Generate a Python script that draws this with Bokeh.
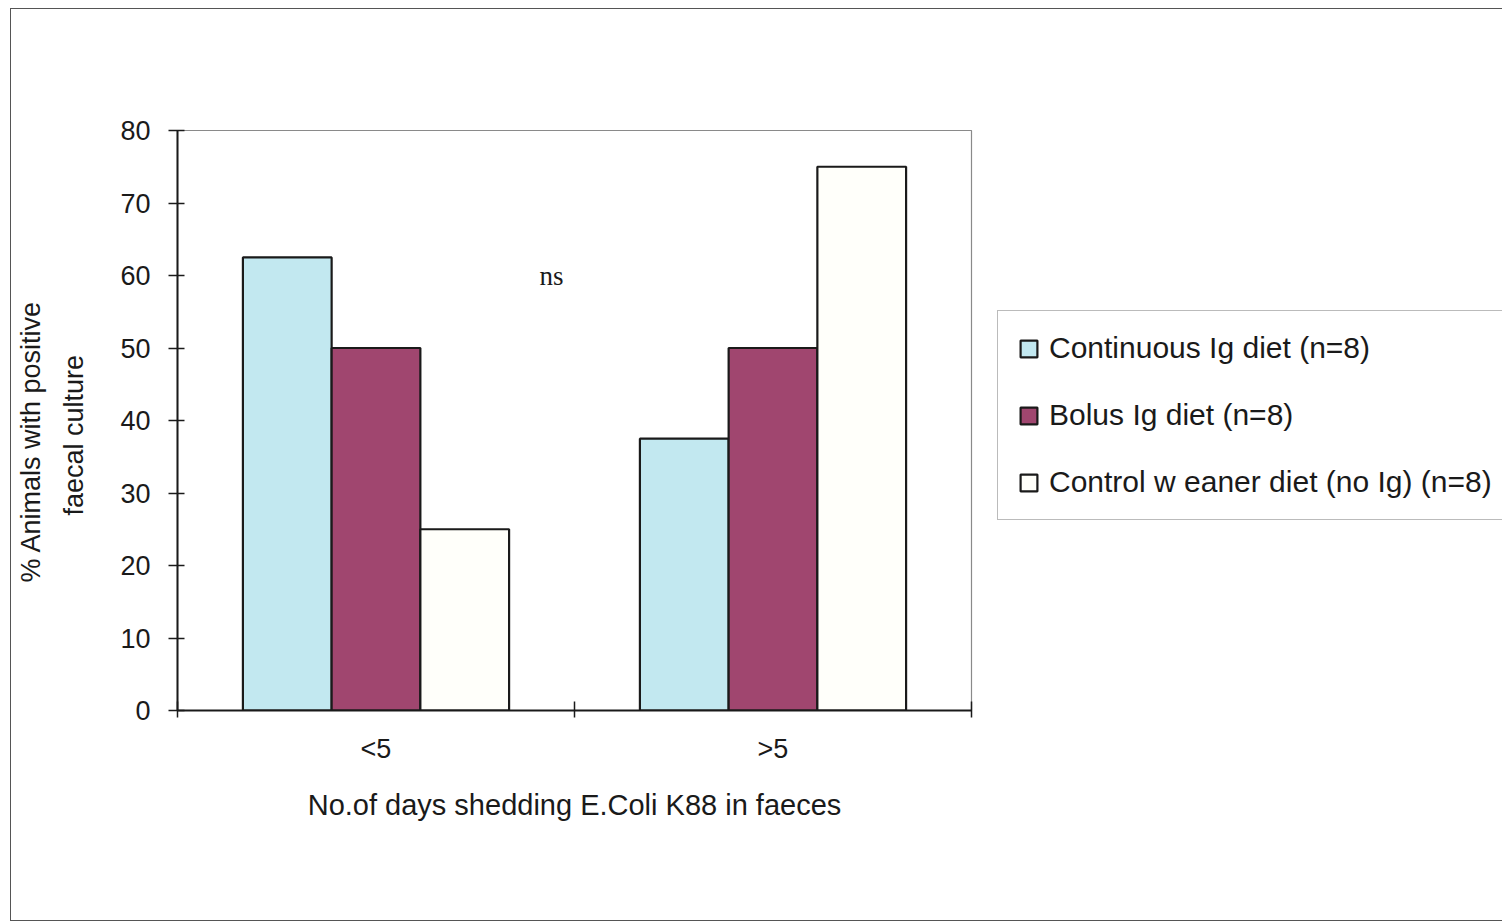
from bokeh.plotting import figure
from bokeh.layouts import row
from bokeh.models import (Range1d, LinearAxis, FixedTicker, CustomJSTickFormatter,
                          Legend, LegendItem, Label, Title)
from bokeh.embed import file_html
from bokeh.resources import INLINE

# ---- data ----
categories = ["<5", ">5"]
continuous = [62.5, 37.5]
bolus = [50, 50]
control = [25, 75]
series_names = ["Continuous Ig diet (n=8)", "Bolus Ig diet (n=8)",
                "Control w eaner diet (no Ig) (n=8)"]
series_colors = ["#c2e8f0", "#a0466f", "#fffffa"]
y_ticks = [0, 10, 20, 30, 40, 50, 60, 70, 80]
y_title = ["% Animals with positive", "faecal culture"]
x_title = "No.of days shedding E.Coli K88 in faeces"

FONT = "Liberation Sans"
INK = "#1a1a1a"
n = len(categories)
BT, BB = 121, 210   # top / bottom borders shared by both panels

p = figure(width=984, height=911, output_backend="svg", toolbar_location=None,
           x_range=Range1d(0, n), y_range=Range1d(0, 80),
           x_axis_type=None, y_axis_type=None,
           min_border_left=166, min_border_right=24,
           min_border_top=BT, min_border_bottom=BB)
p.background_fill_color = "white"
p.border_fill_color = "white"
p.outline_line_color = "#8a8a8a"
p.outline_line_width = 1.2
p.xgrid.visible = False
p.ygrid.visible = False

# y axis
yaxis = LinearAxis(ticker=FixedTicker(ticks=y_ticks, minor_ticks=[]))
yaxis.axis_line_color = INK
yaxis.axis_line_width = 2
yaxis.major_tick_line_color = INK
yaxis.major_tick_line_width = 1.5
yaxis.major_tick_in = 7
yaxis.major_tick_out = 9
yaxis.minor_tick_line_color = None
yaxis.major_label_standoff = 18
yaxis.major_label_text_font = FONT
yaxis.major_label_text_font_size = "27px"
yaxis.major_label_text_color = INK
p.add_layout(yaxis, "left")

# y title: two lines as stacked left titles (closest to the axis first)
p.add_layout(Title(text=y_title[1], align="left", offset=195, vertical_align="top",
                   standoff=54, text_font=FONT, text_font_size="27px",
                   text_font_style="normal", text_color=INK), "left")
p.add_layout(Title(text=y_title[0], align="left", offset=128, vertical_align="bottom",
                   standoff=-28, text_font=FONT, text_font_size="27px",
                   text_font_style="normal", text_color=INK), "left")

# x axis: labels at category centres, tick marks at category boundaries
centers = [i + 0.5 for i in range(n)]
bounds = [i for i in range(n + 1)]
xaxis = LinearAxis(ticker=FixedTicker(ticks=centers, minor_ticks=bounds),
                   formatter=CustomJSTickFormatter(args=dict(labels=categories),
                                                   code="return labels[Math.floor(tick)]"))
xaxis.axis_line_color = INK
xaxis.axis_line_width = 2
xaxis.major_tick_in = 0
xaxis.major_tick_out = 0
xaxis.minor_tick_in = 9
xaxis.minor_tick_out = 7
xaxis.minor_tick_line_color = INK
xaxis.minor_tick_line_width = 1.5
xaxis.major_label_standoff = 16
xaxis.major_label_text_font = FONT
xaxis.major_label_text_font_size = "27px"
xaxis.major_label_text_color = INK
xaxis.axis_label = x_title
xaxis.axis_label_text_font = FONT
xaxis.axis_label_text_font_size = "29px"
xaxis.axis_label_text_font_style = "normal"
xaxis.axis_label_text_color = INK
xaxis.axis_label_standoff = 22
p.add_layout(xaxis, "below")

# bars
bw = 0.2235
all_series = [continuous, bolus, control]
for k, (vals, col) in enumerate(zip(all_series, series_colors)):
    xs = [c + (k - 1) * bw for c in centers]
    p.vbar(x=xs, top=vals, width=bw, fill_color=col, line_color=INK, line_width=2.2)

# "ns" annotation inside the plot area
p.add_layout(Label(x=0.942, y=60, text="ns", text_font="Liberation Serif",
                   text_font_size="27px", text_align="center",
                   text_baseline="middle", text_color=INK))

# legend panel to the right of the plot area; the series are repeated there
# as hidden renderers that only provide the legend swatches
lf = figure(width=507, height=911, output_backend="svg", toolbar_location=None,
            x_range=Range1d(0, n), y_range=Range1d(0, 80),
            x_axis_type=None, y_axis_type=None,
            min_border_left=0, min_border_right=0, min_border_top=BT,
            min_border_bottom=BB)
lf.outline_line_color = None
lf.xgrid.visible = False
lf.ygrid.visible = False
lf.background_fill_color = "white"
lf.border_fill_color = "white"
swatches = []
for k, (vals, col) in enumerate(zip(all_series, series_colors)):
    xs = [c + (k - 1) * bw for c in centers]
    r = lf.vbar(x=xs, top=vals, width=bw, fill_color=col, line_color=INK,
                line_width=2.2)
    r.visible = False
    swatches.append(r)
legend = Legend(items=[LegendItem(label=nm, renderers=[r])
                       for nm, r in zip(series_names, swatches)],
                location=(2, 190))
legend.inactive_fill_alpha = 0
legend.border_line_color = "#777777"
legend.border_line_width = 1.5
legend.background_fill_color = "white"
legend.background_fill_alpha = 1
legend.glyph_width = 21
legend.glyph_height = 21
legend.label_standoff = 10
legend.label_text_font = FONT
legend.label_text_font_size = "30px"
legend.label_text_color = INK
legend.spacing = 33
legend.padding = 20
legend.margin = 0
lf.add_layout(legend, "center")

layout = row(p, lf)
layout.margin = (8, 0, 0, 10)
layout.styles = {"border-left": "1.5px solid #555555",
                 "border-top": "1.5px solid #555555",
                 "border-bottom": "1.5px solid #555555"}

open("out.html", "w").write(file_html(layout, INLINE))
